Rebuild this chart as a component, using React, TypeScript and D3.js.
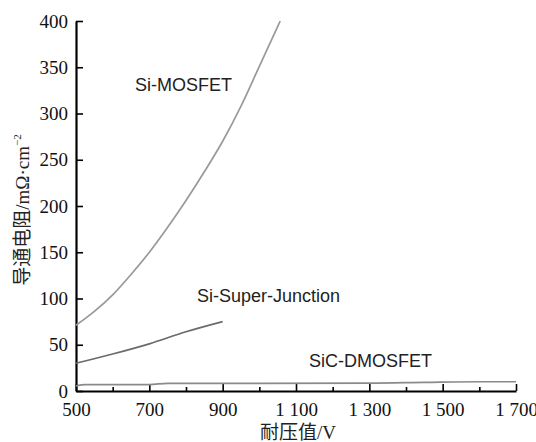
import React, { useEffect, useRef } from "react";
import * as d3 from "d3";

// data
const voltageTicks = [500, 700, 900, 1100, 1300, 1500, 1700];
const resistanceTicks = [0, 50, 100, 150, 200, 250, 300, 350, 400];

const siMosfetV = [500, 550, 600, 650, 700, 750, 800, 850, 900, 950, 1000, 1057];
const siMosfetR = [71, 86, 104, 126, 150, 177, 206, 237, 270, 308, 351, 400];

const superJunctionV = [500, 600, 700, 800, 900];
const superJunctionR = [30, 40, 51, 64, 75];

const sicV = [500, 525, 700, 750, 1000, 1300, 1450, 1600, 1700];
const sicR = [5.5, 7, 7, 8.3, 8.3, 8.5, 9.3, 10, 10];

const seriesNames = ["Si-MOSFET", "Si-Super-Junction", "SiC-DMOSFET"];

const width = 536;
const height = 442;

export default function App() {
  const svgRef = useRef<SVGSVGElement | null>(null);

  useEffect(() => {
    const svg = d3.select(svgRef.current);
    svg.selectAll("*").remove();

    const x = d3.scaleLinear().domain([500, 1700]).range([76, 516]);
    const y = d3.scaleLinear().domain([0, 400]).range([391, 21]);

    const serif = '"Liberation Serif", "Times New Roman", serif';
    const cjk = '"Liberation Serif", "Noto Sans CJK SC", serif';
    const sans = '"Liberation Sans", Arial, sans-serif';

    const fmt = d3.formatLocale({ decimal: ".", thousands: " ", grouping: [3], currency: ["", ""] }).format(",");

    // minor ticks on x
    svg.append("g")
      .attr("transform", `translate(0,${y(0)})`)
      .call(d3.axisBottom(x).tickValues(d3.range(600, 1700, 200)).tickSize(-4).tickFormat(() => ""))
      .call((g) => g.select(".domain").remove())
      .call((g) => g.selectAll("line").attr("stroke", "#000").attr("stroke-width", 1.6));

    // X AXIS
    const gx = svg.append("g")
      .attr("transform", `translate(0,${y(0)})`)
      .call(d3.axisBottom(x).tickValues(voltageTicks).tickSizeInner(-7).tickSizeOuter(0).tickPadding(12).tickFormat((d) => fmt(d as number)));
    gx.attr("font-family", null).attr("font-size", null);
    gx.select(".domain").attr("stroke", "#000").attr("stroke-width", 2.2);
    gx.selectAll("line").attr("stroke", "#000").attr("stroke-width", 1.6);
    gx.selectAll("text").style("font-family", serif).style("font-size", "19px").attr("fill", "#111");

    // Y AXIS
    const gy = svg.append("g")
      .attr("transform", `translate(${x(500)},0)`)
      .call(d3.axisLeft(y).tickValues(resistanceTicks).tickSizeInner(-7).tickSizeOuter(0).tickPadding(8));
    gy.attr("font-family", null).attr("font-size", null);
    gy.select(".domain").attr("stroke", "#000").attr("stroke-width", 2.2);
    gy.selectAll("line").attr("stroke", "#000").attr("stroke-width", 1.6);
    gy.selectAll("text").style("font-family", serif).style("font-size", "19px").attr("fill", "#111");

    // curves
    const line = d3.line<[number, number]>()
      .x((d) => x(d[0]))
      .y((d) => y(d[1]))
      .curve(d3.curveMonotoneX);

    const series = [
      { v: siMosfetV, r: siMosfetR, color: "#999999" },
      { v: superJunctionV, r: superJunctionR, color: "#6b6b6b" },
      { v: sicV, r: sicR, color: "#8a8a8a" },
    ];
    series.forEach((s) => {
      svg.append("path")
        .datum(s.v.map((v, i) => [v, s.r[i]] as [number, number]))
        .attr("fill", "none")
        .attr("stroke", s.color)
        .attr("stroke-width", 1.7)
        .attr("d", line);
    });

    // series labels
    const labelPos = [
      [135, 91],
      [197, 302],
      [309, 367],
    ];
    seriesNames.forEach((name, i) => {
      svg.append("text")
        .attr("x", labelPos[i][0])
        .attr("y", labelPos[i][1])
        .style("font-family", sans)
        .style("font-size", "18px")
        .attr("fill", "#222")
        .text(name);
    });

    // X label
    svg.append("text")
      .attr("x", 298)
      .attr("y", 439)
      .attr("text-anchor", "middle")
      .style("font-family", cjk)
      .style("font-size", "19px")
      .attr("fill", "#222")
      .text("耐压值/V");

    // Y label
    const yl = svg.append("text")
      .attr("transform", "translate(29,210) rotate(-90)")
      .attr("text-anchor", "middle")
      .style("font-family", cjk)
      .style("font-size", "19px")
      .attr("fill", "#222");
    yl.append("tspan").text("导通电阻/mΩ·cm");
    yl.append("tspan").style("font-size", "11px").attr("dy", -8).text("−2");
  }, []);

  return (
    <svg
      ref={svgRef}
      width={width}
      height={height}
      style={{ position: "absolute", left: 0, top: 0, background: "#fff" }}
    />
  );
}
